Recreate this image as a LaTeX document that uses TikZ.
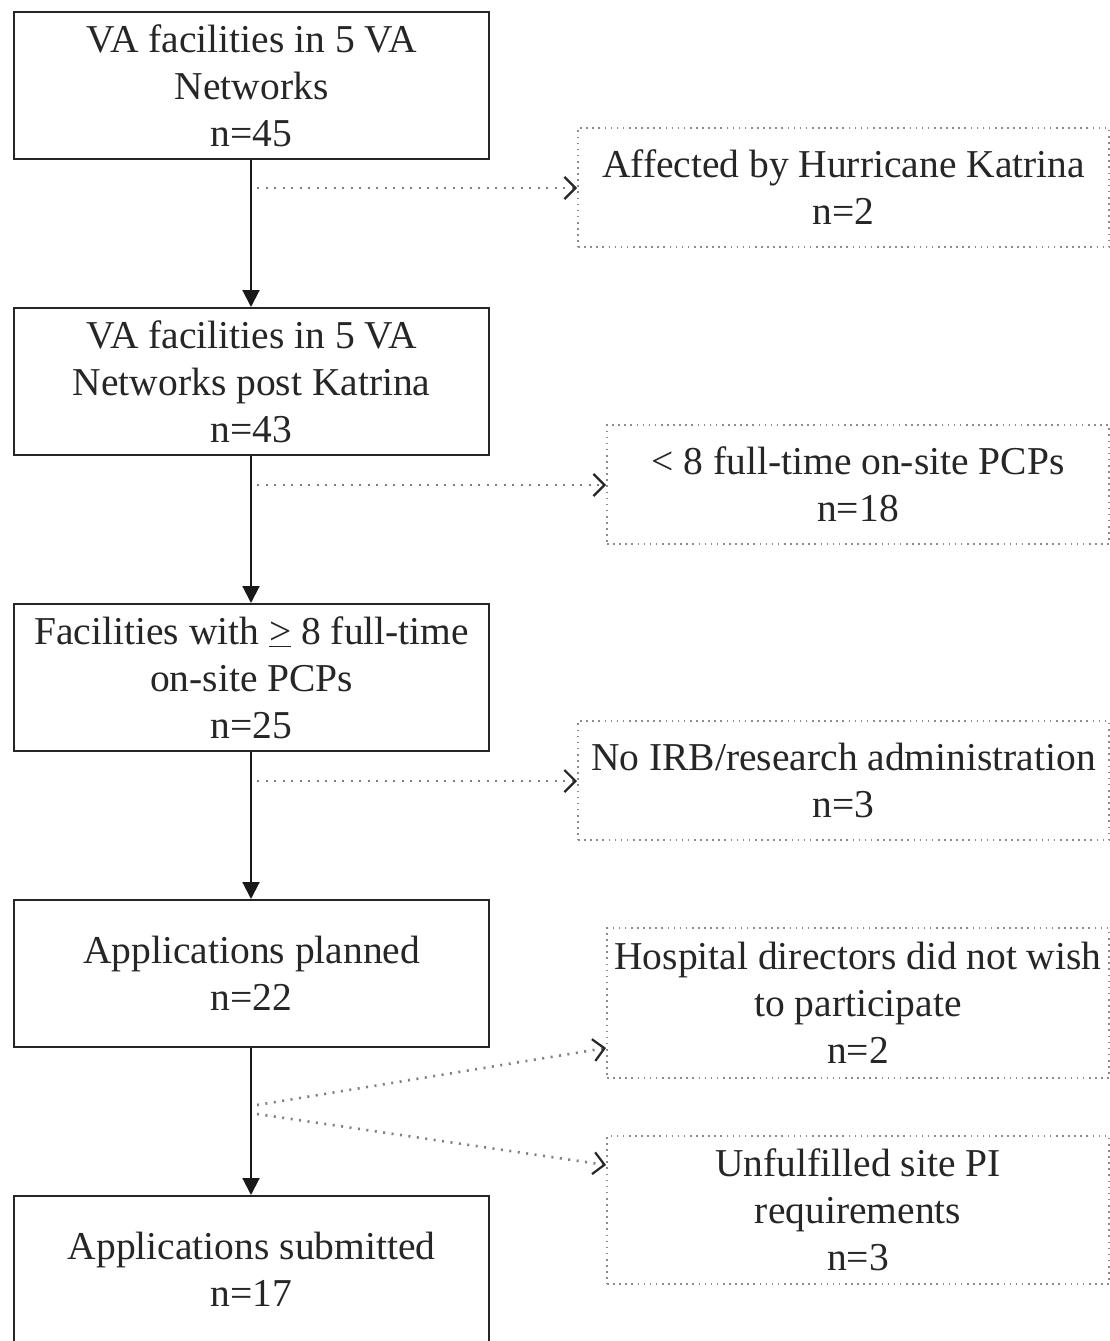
\documentclass[tikz,border=0pt]{standalone}
\usepackage{fontspec}
\setmainfont{Liberation Serif}
\usetikzlibrary{arrows.meta,calc}
\begin{document}
\begin{tikzpicture}[x=1pt,y=-1pt,
  mainbox/.style={draw=black!85, line width=2.4pt, align=center,
    font=\fontsize{39.5}{47}\selectfont, inner sep=0pt,
    minimum width=475pt, minimum height=147pt, anchor=north west, text=black!85},
  sidebox/.style={draw=black!45, line width=2pt, dash pattern=on 1.6pt off 4.5pt,
    align=center, font=\fontsize{39.5}{47}\selectfont, inner sep=0pt,
    anchor=north west, text=black!85},
  mainarrow/.style={draw=black!90, line width=2pt, -{Triangle[length=17pt,width=17pt]}},
  exclarrow/.style={draw=black!50, line width=2.6pt, dash pattern=on 2pt off 6.5pt,
    -{Straight Barb[length=11pt,width=22pt,line width=2.2pt,color=black!85]}},
]
\useasboundingbox (0,0) rectangle (1110,1341);
\fill[white] (0,0) rectangle (1110,1341);

% main boxes
\node[mainbox] (b1) at (13,11)   {VA facilities in 5 VA\\Networks\\n=45};
\node[mainbox] (b2) at (13,307)  {VA facilities in 5 VA\\Networks post Katrina\\n=43};
\node[mainbox] (b3) at (13,603)  {Facilities with \underline{>} 8 full-time\\on-site PCPs\\n=25};
\node[mainbox] (b4) at (13,899)  {Applications planned\\n=22};
\node[mainbox] (b5) at (13,1195) {Applications submitted\\n=17};

% side boxes
\node[sidebox, minimum width=531pt, minimum height=119pt] (r1) at (577,127)  {Affected by Hurricane Katrina\\n=2};
\node[sidebox, minimum width=502pt, minimum height=119pt] (r2) at (606,424)  {< 8 full-time on-site PCPs\\n=18};
\node[sidebox, minimum width=531pt, minimum height=119pt] (r3) at (577,720)  {No IRB/research administration\\n=3};
\node[sidebox, minimum width=502pt, minimum height=150pt] (r4) at (606,927)  {Hospital directors did not wish\\to participate\\n=2};
\node[sidebox, minimum width=502pt, minimum height=148pt] (r5) at (606,1135) {Unfulfilled site PI\\requirements\\n=3};

% main arrows
\draw[mainarrow] ($(b1.south west)+(238,0)$) -- ($(b2.north west)+(238,0)$);
\draw[mainarrow] ($(b2.south west)+(238,0)$) -- ($(b3.north west)+(238,0)$);
\draw[mainarrow] ($(b3.south west)+(238,0)$) -- ($(b4.north west)+(238,0)$);
\draw[mainarrow] ($(b4.south west)+(238,0)$) -- ($(b5.north west)+(238,0)$);

% exclusion arrows
\coordinate (s1) at (257,188);
\coordinate (s2) at (257,485);
\coordinate (s3) at (257,781);
\coordinate (s4) at (257,1105);
\coordinate (s5) at (257,1114);
\coordinate (e4) at ($(r4.north west)+(0,121)$);
\coordinate (e5) at ($(r5.north west)+(0,30)$);
\draw[exclarrow] (s1) -- (s1 -| r1.west);
\draw[exclarrow] (s2) -- (s2 -| r2.west);
\draw[exclarrow] (s3) -- (s3 -| r3.west);
\draw[exclarrow] (s4) -- (e4);
\draw[exclarrow] (s5) -- (e5);
\end{tikzpicture}
\end{document}
